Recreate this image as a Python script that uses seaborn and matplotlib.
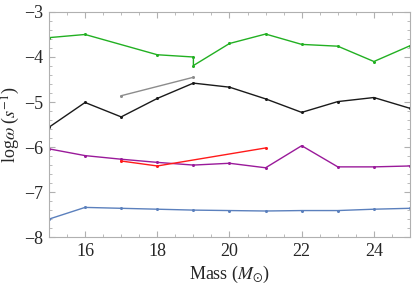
import numpy as np
import pandas as pd
import seaborn as sns
import matplotlib.pyplot as plt
from matplotlib.ticker import MultipleLocator

sns.set_theme(style="ticks")
plt.rcParams["font.family"] = ["Liberation Serif", "DejaVu Serif"]
plt.rcParams["mathtext.fontset"] = "stix"
plt.rcParams["axes.unicode_minus"] = True

# mass grid and log omega per series
mass = [15, 16, 17, 18, 19, 20, 21, 22, 23, 24, 25]

green_mass = [15, 16, 18, 19, 19, 20, 21, 22, 23, 24, 25]
green_vals = [-3.57, -3.50, -3.95, -4.00, -4.19, -3.70, -3.49, -3.72, -3.76, -4.10, -3.75]

black_vals = [-5.56, -5.01, -5.33, -4.92, -4.58, -4.67, -4.93, -5.23, -4.99, -4.90, -5.14]

gray_mass = [17, 19]
gray_vals = [-4.86, -4.45]

purple_vals = [-6.04, -6.19, -6.27, -6.34, -6.40, -6.36, -6.46, -5.97, -6.44, -6.44, -6.42]

red_mass = [17, 18, 21]
red_vals = [-6.31, -6.42, -6.02]

blue_vals = [-7.60, -7.34, -7.36, -7.38, -7.40, -7.41, -7.42, -7.41, -7.41, -7.38, -7.36]

series = [
    ("green", green_mass, green_vals, "#22b022"),
    ("black", mass, black_vals, "#1a1a1a"),
    ("gray", gray_mass, gray_vals, "#8c8c8c"),
    ("purple", mass, purple_vals, "#9a1a9a"),
    ("red", red_mass, red_vals, "#ff1a1a"),
    ("blue", mass, blue_vals, "#5b80bd"),
]

fig = plt.figure(figsize=(4.15, 2.85), dpi=100)
ax = fig.add_axes([0.118, 0.168, 0.870, 0.790])

for name, xs, ys, col in series:
    d = pd.DataFrame({"m": xs, "w": ys})
    sns.lineplot(data=d, x="m", y="w", sort=False, estimator=None, color=col,
                 lw=1.0, marker="o", markersize=2.2, markeredgewidth=0, ax=ax)

ax.set_xlim(15, 25)
ax.set_ylim(-8, -3)
ax.xaxis.set_major_locator(MultipleLocator(2))
ax.xaxis.set_minor_locator(MultipleLocator(0.5))
ax.yaxis.set_major_locator(MultipleLocator(1))
ax.yaxis.set_minor_locator(MultipleLocator(0.2))
ax.tick_params(which="both", direction="in", top=True, right=True,
               color="#b0b0b0", labelsize=13, pad=4)
ax.tick_params(which="major", length=4, width=0.8)
ax.tick_params(which="minor", length=2, width=0.6)
for s in ax.spines.values():
    s.set_color("#b0b0b0")
    s.set_linewidth(0.8)

ax.set_xlabel(r"Mass ($M_{\odot}$)", fontsize=13, labelpad=3)
ax.set_ylabel(r"log$\omega$ ($s^{-1}$)", fontsize=13, labelpad=2)

fig.savefig("out.png", dpi=100)
